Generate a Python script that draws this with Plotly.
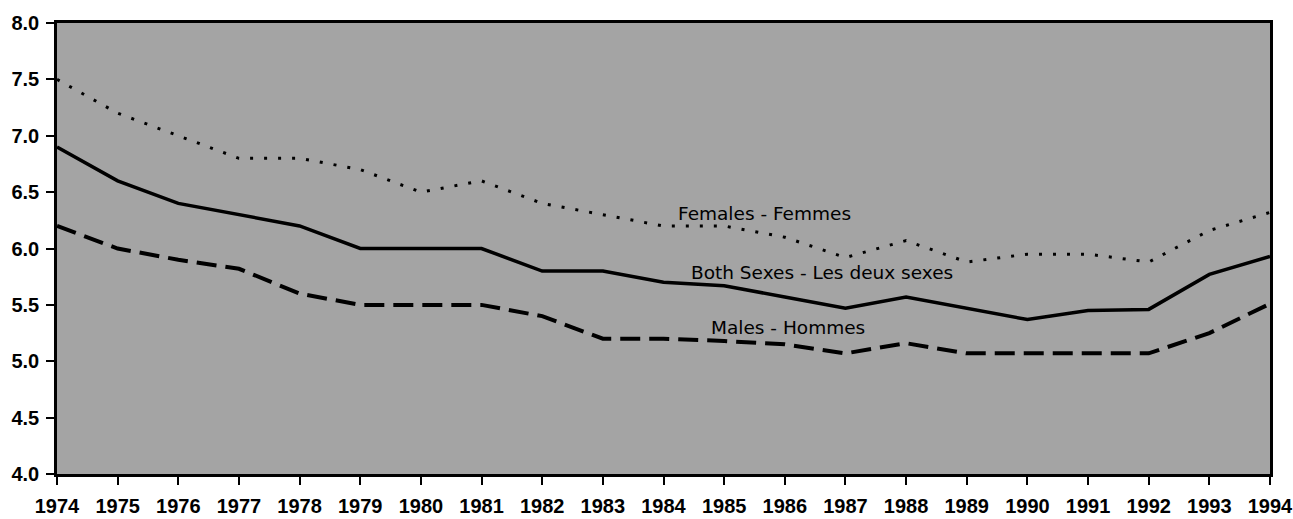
import plotly.graph_objects as go

years = list(range(1974, 1995))
females = [7.5, 7.2, 7.0, 6.8, 6.8, 6.7, 6.5, 6.6, 6.4, 6.3, 6.2, 6.2, 6.1, 5.92, 6.07, 5.88, 5.95, 5.95, 5.88, 6.16, 6.32]
both = [6.9, 6.6, 6.4, 6.3, 6.2, 6.0, 6.0, 6.0, 5.8, 5.8, 5.7, 5.67, 5.57, 5.47, 5.57, 5.47, 5.37, 5.45, 5.46, 5.77, 5.93]
males = [6.2, 6.0, 5.9, 5.82, 5.6, 5.5, 5.5, 5.5, 5.4, 5.2, 5.2, 5.18, 5.15, 5.07, 5.16, 5.07, 5.07, 5.07, 5.07, 5.25, 5.51]
y_ticks = [4.0, 4.5, 5.0, 5.5, 6.0, 6.5, 7.0, 7.5, 8.0]
labels = ["Females - Femmes", "Both Sexes - Les deux sexes", "Males - Hommes"]
label_x = [1985.66, 1986.61, 1986.05]
label_y = [6.31, 5.79, 5.30]

fig = go.Figure()
fig.add_trace(go.Scatter(x=years, y=females, mode="lines",
                         line=dict(color="black", width=3, dash="3px,11px"), showlegend=False))
fig.add_trace(go.Scatter(x=years, y=both, mode="lines",
                         line=dict(color="black", width=3.5), showlegend=False))
fig.add_trace(go.Scatter(x=years, y=males, mode="lines",
                         line=dict(color="black", width=4, dash="20px,9px"), showlegend=False))

for t, x, y in zip(labels, label_x, label_y):
    fig.add_annotation(x=x, y=y, text=t, showarrow=False,
                       font=dict(family="DejaVu Sans", size=18.5, color="black"))

tickfont = dict(family="Liberation Sans", size=20, color="black", weight="bold")
fig.update_xaxes(range=[1974, 1994], tickmode="array", tickvals=years,
                 ticktext=[str(y) for y in years], ticks="outside", ticklen=8,
                 tickwidth=2, tickcolor="black", showgrid=False, zeroline=False,
                 showline=True, linecolor="black", linewidth=2.5, mirror=True,
                 automargin=False, ticklabelstandoff=4, ticklabeloverflow="allow",
                 tickfont=tickfont)
fig.update_yaxes(range=[4.0, 8.0], tickmode="array", tickvals=y_ticks,
                 ticktext=[f"{v:.1f}" for v in y_ticks], ticks="outside", ticklen=8,
                 tickwidth=2, tickcolor="black", showgrid=False, zeroline=False,
                 showline=True, linecolor="black", linewidth=2.5, mirror=True,
                 automargin=False, ticklabelstandoff=3, ticklabeloverflow="allow",
                 tickfont=tickfont)

fig.update_layout(width=1293, height=519, margin=dict(l=57, r=23, t=23, b=45),
                  plot_bgcolor="#a4a4a4", paper_bgcolor="white")
fig.write_html("out.html", config={"displayModeBar": False},
               post_script="document.body.style.margin='0';document.body.style.overflow='hidden';")
